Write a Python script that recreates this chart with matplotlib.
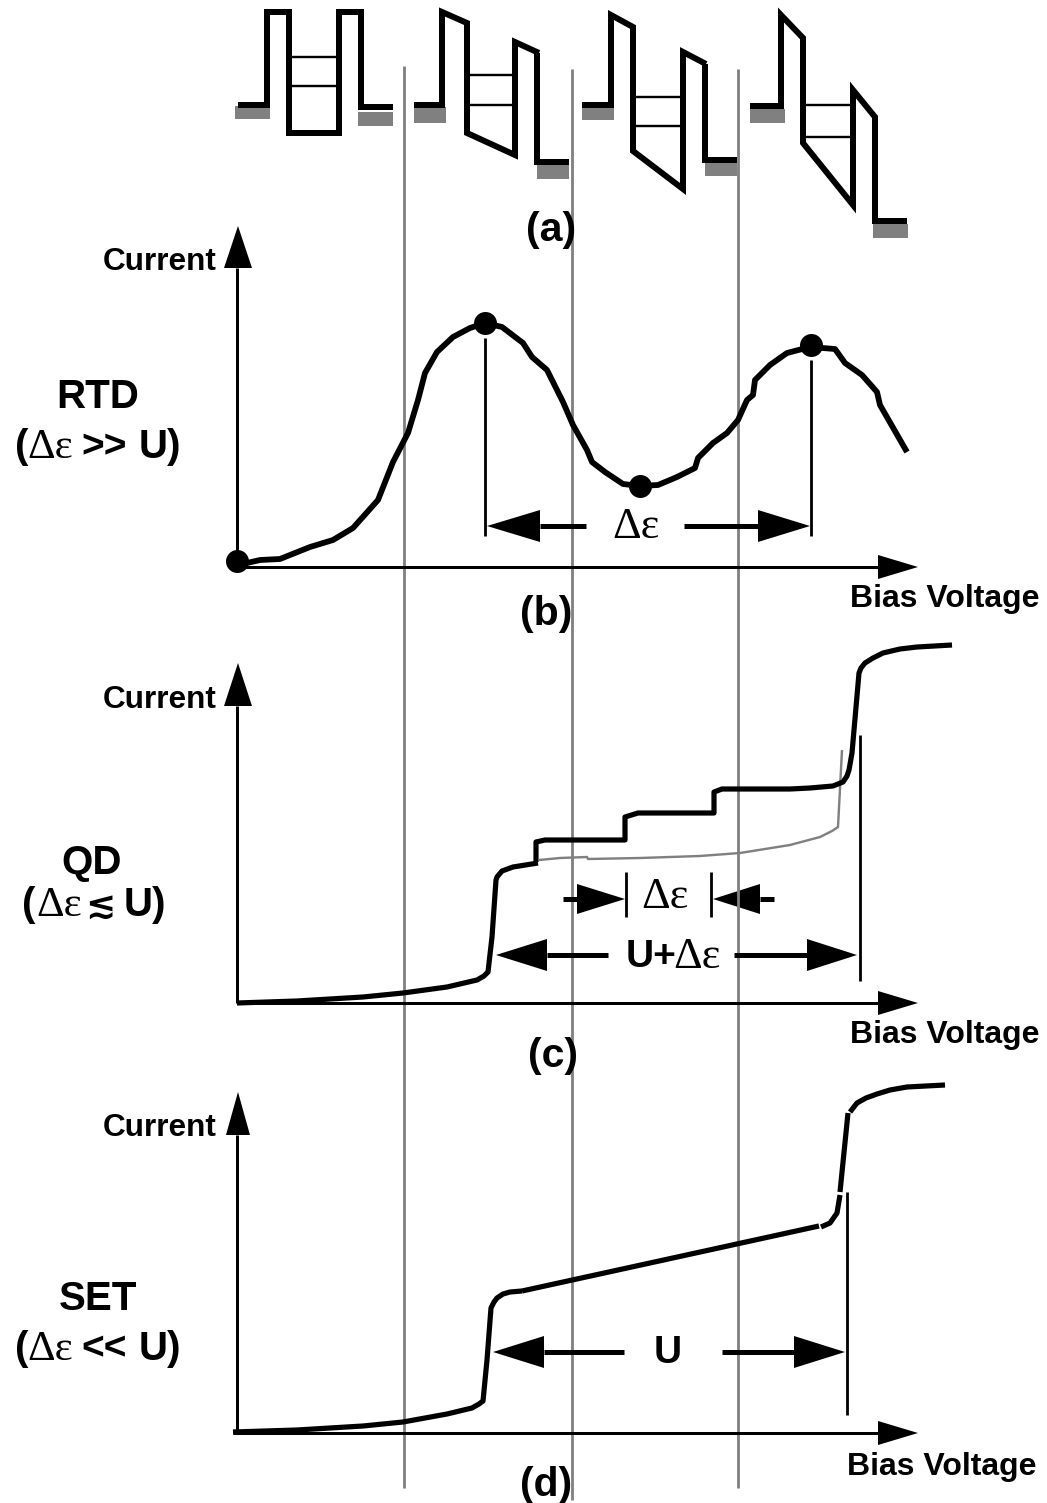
import matplotlib
matplotlib.use('Agg')
import matplotlib.pyplot as plt

W, H = 1047, 1503
PX = 0.72  # one pixel in points at dpi 100

# (a) band diagrams
well_1 = [(238, 105), (267, 105), (267, 12), (289, 12), (289, 133), (339, 133), (339, 12), (361, 12), (361, 107), (393, 107)]
well_2 = [(414, 105), (442, 105), (442, 12), (467, 23), (467, 133), (515, 155), (515, 42), (539, 53)]
well_2b = [(537, 53), (537, 162), (569, 162)]
well_3 = [(582, 105), (611, 105), (611, 15), (633, 27), (633, 151), (683, 189), (683, 52), (706, 64)]
well_3b = [(705, 64), (705, 160), (737, 160)]
well_4 = [(750, 106), (781, 106), (781, 15), (803, 38), (803, 143), (853, 205), (853, 90), (875, 117), (875, 221), (907, 221)]
well_levels = [(289, 339, 57), (289, 339, 86), (467, 515, 75), (467, 515, 105),
               (633, 683, 97), (633, 683, 126), (803, 853, 105), (803, 853, 137)]
lead_boxes = [(235, 106, 35, 13), (358, 112, 35, 14), (414, 107, 32, 16), (537, 163, 32, 16),
              (582, 106, 32, 14), (705, 162, 32, 14), (750, 109, 35, 14), (873, 224, 35, 14)]
guide_lines = [(404, 66, 1488), (572, 69, 1500), (738, 69, 1488)]

# (b) RTD
rtd_curve = [(247, 563), (260, 560), (280, 559), (310, 547), (333, 540), (353, 528), (378, 500), (393, 462),
             (408, 433), (418, 400), (425, 373), (437, 352), (453, 337), (470, 328), (485, 323), (502, 327),
             (523, 343), (532, 357), (547, 370), (563, 402), (573, 425), (587, 450), (592, 462), (605, 472),
             (623, 484), (640, 486), (658, 485), (677, 477), (695, 468), (698, 458), (713, 443), (727, 433),
             (738, 420), (747, 400), (753, 395), (755, 380), (770, 365), (787, 353), (810, 347), (835, 349),
             (845, 363), (862, 375), (877, 392), (880, 405), (907, 452)]
rtd_dots = [(237, 561), (485, 323), (640, 486), (811, 345)]

# (c) QD
qd_curve = [(237, 1003), (297, 1001), (363, 997), (403, 993), (447, 987), (477, 980), (484, 976), (488, 972),
            (492, 937), (496, 880), (497, 877), (502, 871), (513, 867), (538, 863)]
qd_steps = [(536, 862), (536, 842), (545, 840), (625, 840), (625, 817), (638, 813), (714, 813), (714, 792), (722, 789),
            (790, 789), (810, 788), (833, 786), (843, 782), (847, 776), (849, 770), (852, 753), (859, 673),
            (861, 668), (865, 663), (873, 658), (883, 653), (900, 649), (917, 647), (952, 645)]
qd_gray = [(539, 860), (560, 858), (587, 857), (588, 859), (640, 858), (700, 856), (740, 853), (790, 845),
           (820, 837), (832, 831), (838, 827), (842, 750)]

# (d) SET
set_curve_1 = [(233, 1432), (297, 1430), (363, 1426), (403, 1422), (447, 1414), (472, 1408), (479, 1404), (483, 1401),
               (487, 1360), (491, 1308), (494, 1302), (497, 1298), (503, 1294), (510, 1292), (522, 1291)]
set_curve_2 = [(522, 1291), (819, 1226)]
set_curve_3 = [(821, 1227), (830, 1223), (837, 1213), (840, 1195)]
set_curve_4 = [(840, 1192), (848, 1113)]
set_curve_5 = [(850, 1112), (857, 1103), (866, 1098), (877, 1094), (890, 1090), (907, 1087), (945, 1085)]

# thin vertical markers
thin_lines = [(485, 338, 536), (811, 360, 536), (626, 872, 917), (711, 872, 917), (860, 735, 981), (847, 1192, 1415)]

# axes: x, bottom, top tip, head base, head half width
y_axes = [(237, 567, 226, 268, 14), (237, 1003, 663, 706, 14), (237, 1432, 1092, 1135, 12)]
x_axes = [(237, 567), (237, 1003), (233, 1433)]
x_axis_tip = 918
x_axis_base = 878

# dimension arrows: shaft end, head base, tip, y, half width
dim_arrows = [(586, 540, 487, 526, 16), (684, 758, 810, 526, 16),
              (563, 577, 625, 899, 15), (774, 760, 713, 899, 15),
              (608, 547, 496, 955, 16), (734, 807, 857, 955, 16),
              (624, 544, 493, 1352, 16), (722, 794, 845, 1352, 16)]

# texts
current_labels = [(103, 258), (103, 696), (103, 1125)]
bias_labels = [(850, 596), (850, 1032), (847, 1463)]
panel_labels = [('(a)', 551, 226), ('(b)', 546, 610), ('(c)', 553, 1052), ('(d)', 546, 1481)]
device_labels = [('RTD', 98, 393), ('QD', 92, 859), ('SET', 98, 1295)]
delta_labels = [(636, 523, 'center'), (665, 892, 'center'), (673, 953, 'left')]

BOLD = 'Liberation Sans'
SERIF = 'Liberation Serif'
GRAY = '#808080'

fig = plt.figure(figsize=(W / 100, H / 100), dpi=100)
ax = fig.add_axes([0, 0, 1, 1])
ax.set_xlim(0, W)
ax.set_ylim(H, 0)
ax.axis('off')


def draw(points, width, color='black', join='miter'):
    xs = [p[0] for p in points]
    ys = [p[1] for p in points]
    ax.plot(xs, ys, color=color, lw=width * PX, solid_joinstyle=join, solid_capstyle='butt')


def label(x, y, s, size=29, ha='left', serif=False):
    ax.text(x, y, s, fontsize=size, ha=ha, va='center_baseline', color='black',
            family=SERIF if serif else BOLD, weight='normal' if serif else 'bold')


for x, y0, y1 in guide_lines:
    draw([(x, y0), (x, y1)], 2.8, GRAY)

for x, y, w, h in lead_boxes:
    ax.fill([x, x + w, x + w, x], [y, y, y + h, y + h], color=GRAY, lw=0)
for well in [well_1, well_2, well_2b, well_3, well_3b, well_4]:
    draw(well, 6)
for x0, x1, y in well_levels:
    draw([(x0, y), (x1, y)], 2.4)

# axes with arrow heads
for x, bottom, tip, base, half in y_axes:
    draw([(x, bottom), (x, base)], 3)
    ax.fill([x + 1 - half, x + 1, x + 1 + half], [base, tip, base], color='black', lw=0)
for x, y in x_axes:
    draw([(x, y), (x_axis_base, y)], 3)
    ax.fill([x_axis_base, x_axis_tip, x_axis_base], [y - 12, y, y + 12], color='black', lw=0)

# curves
draw(rtd_curve, 5.8, join='round')
ax.plot([p[0] for p in rtd_dots], [p[1] for p in rtd_dots], 'o', color='black', ms=23 * PX, mew=0)
draw(qd_curve, 5.2, join='round')
draw(qd_gray, 2.4, GRAY, join='round')
draw(qd_steps, 5.2, join='round')
for part in [set_curve_1, set_curve_2, set_curve_3, set_curve_4, set_curve_5]:
    draw(part, 5.2, join='round')

for x, y0, y1 in thin_lines:
    draw([(x, y0), (x, y1)], 2.8)

for shaft, base, tip, y, half in dim_arrows:
    draw([(shaft, y), (base, y)], 5)
    ax.fill([base, tip, base], [y - half, y, y + half], color='black', lw=0)

# text
for x, y in current_labels:
    label(x, y, 'Current', 22.7)
for x, y in bias_labels:
    label(x, y, 'Bias Voltage', 23)
for s, x, y in panel_labels:
    label(x, y, s, 29.5, ha='center')
for s, x, y in device_labels:
    label(x, y, s, 29, ha='center')

for x, y, ha in delta_labels:
    label(x, y, 'Δε', 32, ha=ha, serif=True)
label(626, 953, 'U+', 28)
label(668, 1349, 'U', 28, ha='center')

# RTD condition
label(15, 443, '(', 29)
label(27, 443, 'Δε', 31, serif=True)
label(81, 443, '>>', 28)
label(139, 443, 'U)', 29)

# QD condition
label(22, 901, '(', 29)
label(36, 901, 'Δε', 31, serif=True)
ax.text(100, 907, '≲', fontsize=26, ha='center', va='center', family='DejaVu Sans', weight='bold')
label(124, 901, 'U)', 29)

# SET condition
label(15, 1345, '(', 29)
label(27, 1345, 'Δε', 31, serif=True)
label(81, 1345, '<<', 28)
label(139, 1345, 'U)', 29)

fig.savefig('out.png', dpi=100)
